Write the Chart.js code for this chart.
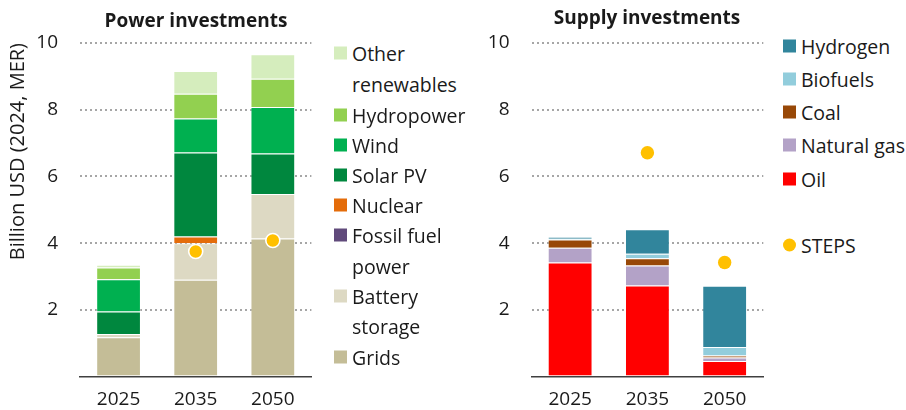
<!DOCTYPE html>
<html>
<head>
<meta charset="utf-8">
<script src="https://cdn.jsdelivr.net/npm/chart.js@4/dist/chart.umd.min.js"></script>
<style>
  body { margin: 0; background: #fff; font-family: 'Open Sans', sans-serif; color: #1a1a1a; }
  #wrap { position: relative; width: 906px; height: 410px; overflow: hidden; }
  .cv { position: absolute; top: 0; }
  .title { position: absolute; font-weight: bold; font-size: 19px; transform: translate(-50%, -50%); white-space: nowrap; }
  .leg { position: absolute; font-size: 19.5px; white-space: nowrap; }
  .leg div { position: absolute; left: 0; transform: translateY(-50%); }
  .leg span.sw { position: absolute; width: 13px; height: 13px; transform: translateY(-50%); }
  .leg span.dot { position: absolute; width: 13px; height: 13px; border-radius: 50%; transform: translateY(-50%); }
</style>
</head>
<body>
<div id="wrap">
  <canvas id="powerChart" class="cv" style="left:0px" width="320" height="410"></canvas>
  <canvas id="supplyChart" class="cv" style="left:460px" width="310" height="410"></canvas>
  <div class="title" style="left:196px; top:20px">Power investments</div>
  <div class="title" style="left:647px; top:17px">Supply investments</div>
  <div id="powerLegend" class="leg"></div>
  <div id="supplyLegend" class="leg"></div>
</div>
<script>
const years = ['2025', '2035', '2050'];
const yTicks = [0, 2, 4, 6, 8, 10];

// power investments (billion USD)
const grids = [1.18, 2.90, 4.14];
const batteryStorage = [0.10, 1.10, 1.33];
const fossilFuelPower = [0, 0, 0];
const nuclear = [0, 0.20, 0];
const solarPV = [0.67, 2.52, 1.22];
const wind = [0.97, 1.02, 1.39];
const hydropower = [0.35, 0.74, 0.85];
const otherRenewables = [0.08, 0.68, 0.73];
const powerSteps = [null, 3.75, 4.08];

// supply investments (billion USD)
const oil = [3.42, 2.73, 0.47];
const naturalGas = [0.44, 0.60, 0.10];
const coal = [0.25, 0.22, 0.06];
const biofuels = [0.02, 0.13, 0.26];
const hydrogen = [0.06, 0.74, 1.83];
const supplySteps = [null, 6.71, 3.42];

const STEPS_COLOR = '#FFC000';

const powerSeries = [
    { label: 'Grids', data: grids, color: '#C4BD97' },
    { label: 'Battery storage', data: batteryStorage, color: '#DDD9C3' },
    { label: 'Fossil fuel power', data: fossilFuelPower, color: '#604A7B' },
    { label: 'Nuclear', data: nuclear, color: '#E46C0A' },
    { label: 'Solar PV', data: solarPV, color: '#00873E' },
    { label: 'Wind', data: wind, color: '#00B050' },
    { label: 'Hydropower', data: hydropower, color: '#92D050' },
    { label: 'Other renewables', data: otherRenewables, color: '#D5EDBD' },
];

const supplySeries = [
    { label: 'Oil', data: oil, color: '#FF0000' },
    { label: 'Natural gas', data: naturalGas, color: '#B3A2C7' },
    { label: 'Coal', data: coal, color: '#984807' },
    { label: 'Biofuels', data: biofuels, color: '#92CDDC' },
    { label: 'Hydrogen', data: hydrogen, color: '#31859C' },
];

const tickFont = { family: "'Open Sans', sans-serif", size: 19 };

function makeChart(id, series, steps, yWidth, yTitle, padRight, dotBorder) {
    const datasets = series.map(s => ({
        type: 'bar',
        label: s.label,
        data: s.data,
        backgroundColor: s.color,
        borderColor: 'rgba(255,255,255,0.3)',
        borderWidth: 1,
        stack: 'main',
        barPercentage: 0.58,
        categoryPercentage: 1,
        order: 2,
    }));
    datasets.push({
        type: 'line',
        label: 'STEPS',
        data: steps,
        showLine: false,
        stack: 'steps',
        pointRadius: dotBorder ? 7 : 6.7,
        pointBackgroundColor: STEPS_COLOR,
        pointBorderColor: '#ffffff',
        pointBorderWidth: dotBorder ? 1.6 : 0,
        order: 1,
    });

    return new Chart(document.getElementById(id).getContext('2d'), {
        type: 'bar',
        data: { labels: years, datasets: datasets },
        options: {
            responsive: false,
            animation: false,
            layout: { padding: { top: 43, right: padRight, bottom: 0, left: 0 } },
            plugins: { legend: { display: false }, tooltip: { enabled: false }, title: { display: false } },
            scales: {
                x: {
                    stacked: true,
                    grid: { display: false, drawTicks: false },
                    border: { display: true, color: '#404040', width: 1.5 },
                    ticks: { font: tickFont, color: '#1a1a1a', padding: 12 },
                    afterFit: scale => { scale.height = 33.3; },
                },
                y: {
                    stacked: true,
                    min: 0,
                    max: 10,
                    afterBuildTicks: scale => { scale.ticks = yTicks.map(v => ({ value: v })); },
                    ticks: {
                        font: tickFont,
                        color: '#1a1a1a',
                        padding: 22,
                        callback: v => (v === 0 ? '' : v),
                    },
                    grid: {
                        drawTicks: false,
                        lineWidth: 2,
                        color: ctx => (ctx.tick && ctx.tick.value === 0 ? 'rgba(0,0,0,0)' : '#a6a6a6'),
                    },
                    border: { display: false, dash: [2, 3] },
                    title: yTitle ? {
                        display: true,
                        text: yTitle,
                        align: 'end',
                        font: { family: "'Open Sans', sans-serif", size: 20 },
                        color: '#1a1a1a',
                        padding: { top: 6, bottom: 0 },
                    } : { display: false },
                    afterFit: scale => { scale.width = yWidth; },
                },
            },
        },
    });
}

makeChart('powerChart', powerSeries, powerSteps, 80, 'Billion USD (2024, MER)', 8, true);
makeChart('supplyChart', supplySeries, supplySteps, 71.5, null, 6, false);

// legends (top to bottom = top of stack first)
function buildLegend(elId, left, rows) {
    const el = document.getElementById(elId);
    el.style.left = left + 'px';
    el.style.top = '0px';
    rows.forEach(r => {
        if (r.swatch) {
            const sw = document.createElement('span');
            sw.className = r.round ? 'dot' : 'sw';
            sw.style.left = '0px';
            sw.style.top = r.y + 'px';
            sw.style.background = r.swatch;
            el.appendChild(sw);
        }
        const t = document.createElement('div');
        t.textContent = r.text;
        t.style.left = '18px';
        t.style.top = r.y + 'px';
        el.appendChild(t);
    });
}

const colorOf = (series, label) => series.find(s => s.label === label).color;

buildLegend('powerLegend', 334, [
    { text: 'Other', y: 53, swatch: colorOf(powerSeries, 'Other renewables') },
    { text: 'renewables', y: 83.5 },
    { text: 'Hydropower', y: 115, swatch: colorOf(powerSeries, 'Hydropower') },
    { text: 'Wind', y: 145, swatch: colorOf(powerSeries, 'Wind') },
    { text: 'Solar PV', y: 175, swatch: colorOf(powerSeries, 'Solar PV') },
    { text: 'Nuclear', y: 205, swatch: colorOf(powerSeries, 'Nuclear') },
    { text: 'Fossil fuel', y: 235, swatch: colorOf(powerSeries, 'Fossil fuel power') },
    { text: 'power', y: 265.5 },
    { text: 'Battery', y: 296, swatch: colorOf(powerSeries, 'Battery storage') },
    { text: 'storage', y: 326 },
    { text: 'Grids', y: 356.5, swatch: colorOf(powerSeries, 'Grids') },
]);

buildLegend('supplyLegend', 783, [
    { text: 'Hydrogen', y: 46, swatch: colorOf(supplySeries, 'Hydrogen') },
    { text: 'Biofuels', y: 79, swatch: colorOf(supplySeries, 'Biofuels') },
    { text: 'Coal', y: 112, swatch: colorOf(supplySeries, 'Coal') },
    { text: 'Natural gas', y: 145, swatch: colorOf(supplySeries, 'Natural gas') },
    { text: 'Oil', y: 179, swatch: colorOf(supplySeries, 'Oil') },
    { text: 'STEPS', y: 245, swatch: STEPS_COLOR, round: true },
]);
</script>
</body>
</html>
